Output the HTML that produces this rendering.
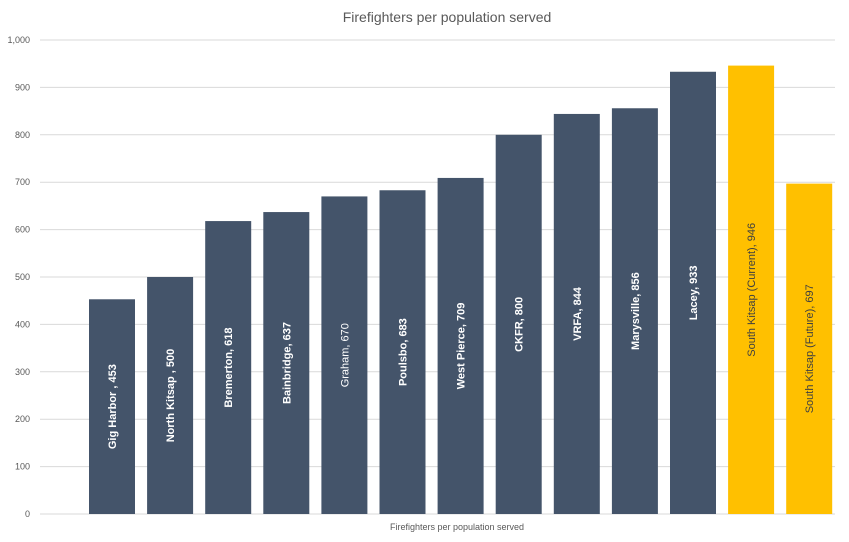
<!DOCTYPE html>
<html><head><meta charset="utf-8"><style>
body{margin:0;background:#fff;}
svg{display:block;font-family:"Liberation Sans",sans-serif;}
</style></head><body>
<svg id="chart" width="849" height="542">
<text x="447" y="22" text-anchor="middle" font-size="14" fill="#595959">Firefighters per population served</text>
<g id="grid"></g><g id="bars"></g>
<text x="457" y="530" text-anchor="middle" font-size="9" fill="#595959">Firefighters per population served</text>
</svg>
<script>
const categories=["Gig Harbor , 453","North Kitsap , 500","Bremerton, 618","Bainbridge, 637","Graham, 670","Poulsbo, 683","West Pierce, 709","CKFR, 800","VRFA, 844","Marysville, 856","Lacey, 933","South Kitsap (Current), 946","South Kitsap (Future), 697"];
const values=[453,500,618,637,670,683,709,800,844,856,933,946,697];
const highlight=[0,0,0,0,0,0,0,0,0,0,0,1,1];
const ticks=[0,100,200,300,400,500,600,700,800,900,1000];
const tickLabels=["0","100","200","300","400","500","600","700","800","900","1,000"];
const NS="http://www.w3.org/2000/svg";
const y0=514,y1=40,plotL=83,step=58.1,gl=40,gr=835;
const y=v=>y0-(v/1000)*(y0-y1);
const x=i=>plotL+i*step;
const grid=document.getElementById('grid'),bars=document.getElementById('bars');
ticks.forEach((t,i)=>{
  const l=document.createElementNS(NS,'line');
  l.setAttribute('x1',gl);l.setAttribute('x2',gr);l.setAttribute('y1',y(t));l.setAttribute('y2',y(t));
  l.setAttribute('stroke','#d9d9d9');l.setAttribute('stroke-width','1');
  
  
  grid.appendChild(l);
  const tx=document.createElementNS(NS,'text');
  tx.setAttribute('x',30);tx.setAttribute('y',y(t)+3);tx.setAttribute('text-anchor','end');
  tx.setAttribute('font-size','9');tx.setAttribute('fill','#595959');tx.textContent=tickLabels[i];
  
  
  grid.appendChild(tx);
});
values.forEach((v,i)=>{
  const bx=x(i)+6,bw=46;
  const r=document.createElementNS(NS,'rect');
  r.setAttribute('x',bx);r.setAttribute('y',y(v));r.setAttribute('width',bw);r.setAttribute('height',y0-y(v));
  r.setAttribute('fill',highlight[i]?'#ffc000':'#44546a');
  
  
  bars.appendChild(r);
  const cx=bx+bw/2,cy=(y(v)+y0)/2;
  const t=document.createElementNS(NS,'text');
  t.setAttribute('transform','translate('+(cx+4)+','+cy+') rotate(-90)');
  t.setAttribute('text-anchor','middle');t.setAttribute('font-size','11');
  t.setAttribute('font-weight',i===4||highlight[i]?'normal':'bold');
  t.setAttribute('fill',highlight[i]?'#404040':'#fff');
  t.textContent=categories[i];
  
  
  bars.appendChild(t);
});
</script>
</body></html>
